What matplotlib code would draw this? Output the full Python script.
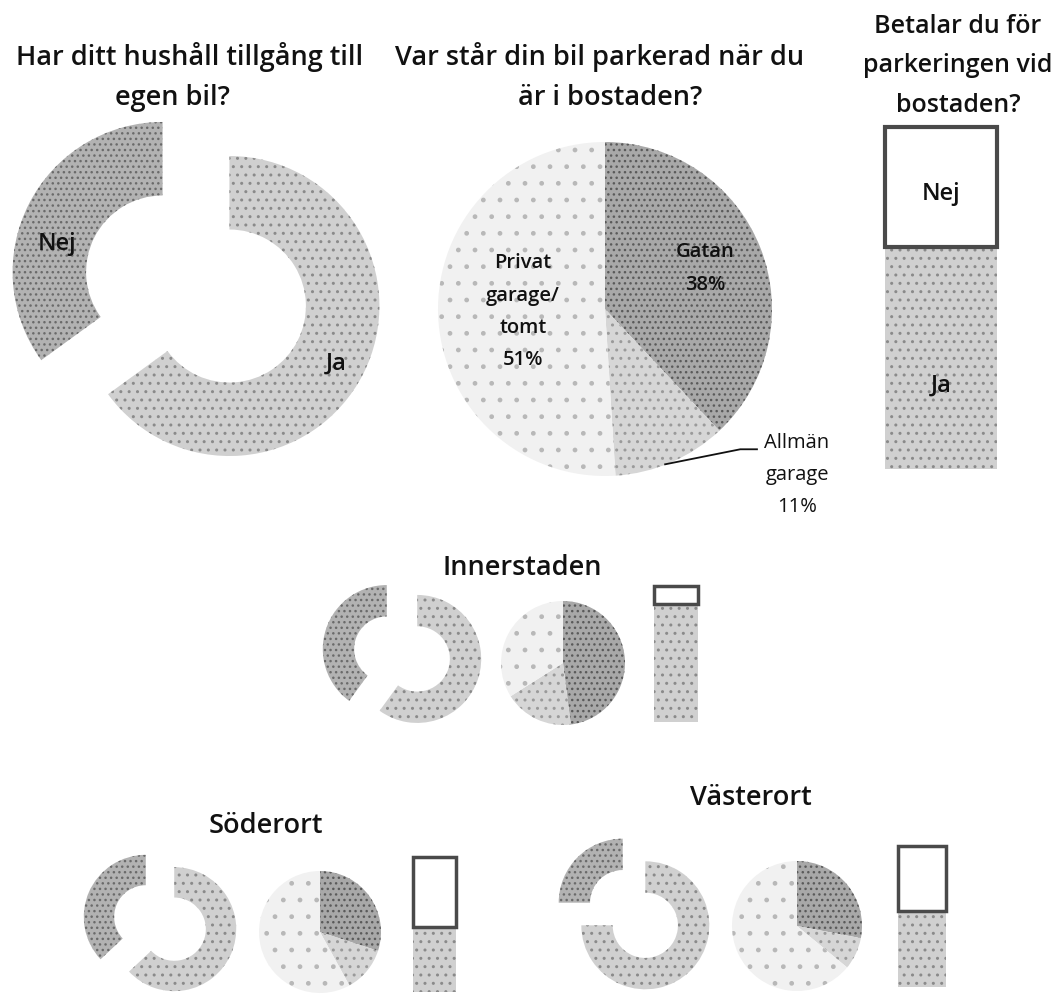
import matplotlib
matplotlib.use("Agg")
import matplotlib.pyplot as plt

# ---------------- data ----------------
car_labels = ["Ja", "Nej"]
park_labels = ["Gatan", "Allmän garage", "Privat garage/tomt"]
pay_labels = ["Ja", "Nej"]

car_all = [65, 35]
park_all = [38, 11, 51]
pay_all = [65, 35]

regions = ["Innerstaden", "Söderort", "Västerort"]
car_inner = [60, 40]
park_inner = [48, 18, 34]
pay_inner = [87, 13]
car_soder = [63, 37]
park_soder = [30, 12, 58]
pay_soder = [48, 52]
car_vaster = [75, 25]
park_vaster = [28, 8, 64]
pay_vaster = [54, 46]

titles = ["Har ditt hushåll tillgång till", "egen bil?",
          "Var står din bil parkerad när du", "är i bostaden?",
          "Betalar du för", "parkeringen vid", "bostaden?"]

# ---------------- style ----------------
W, H = 1053, 995
plt.rcParams["font.family"] = ["Open Sans", "DejaVu Sans"]
col_ja = "#d0d0d0"
col_nej = "#b2b2b2"
col_gatan = "#a8a8a8"
col_allman = "#d6d6d6"
col_privat = "#f1f1f1"

fig = plt.figure(figsize=(W / 100, H / 100), dpi=100)


def px_axes(cx, cy, hw, hh=None):
    if hh is None:
        hh = hw
    return fig.add_axes([(cx - hw) / W, 1 - (cy + hh) / H, 2 * hw / W, 2 * hh / H])


def ftext(x, y, s, size, weight="semibold", **kw):
    fig.text(x / W, 1 - y / H, s, fontsize=size, fontweight=weight,
             ha=kw.pop("ha", "center"), va=kw.pop("va", "baseline"),
             color="#111111", **kw)


def stipple(patch, hatch, color):
    patch.set_hatch(hatch)
    patch.set_edgecolor(color)
    patch.set_linewidth(0)


def donut(cx, cy, R, values):
    L = 1.6
    ax = px_axes(cx, cy, R * L)
    wedges, _ = ax.pie(values, startangle=90, counterclock=False,
                       explode=[0.25] * len(values), radius=1,
                       colors=[col_ja, col_nej],
                       wedgeprops=dict(width=0.49, linewidth=0))
    stipple(wedges[0], "..", "#8a8a8a")
    stipple(wedges[1], "...", "#6a6a6a")
    ax.set_xlim(-L, L)
    ax.set_ylim(-L, L)
    ax.axis("off")
    return ax


def pie(cx, cy, R, values):
    L = 1.3
    ax = px_axes(cx, cy, R * L)
    wedges, _ = ax.pie(values, startangle=90, counterclock=False, radius=1,
                       colors=[col_gatan, col_allman, col_privat],
                       wedgeprops=dict(linewidth=0))
    stipple(wedges[0], "...", "#5a5a5a")
    stipple(wedges[1], "..", "#9a9a9a")
    stipple(wedges[2], ".", "#b8b8b8")
    ax.set_xlim(-L, L)
    ax.set_ylim(-L, L)
    ax.axis("off")
    return ax


def bar(x0, x1, y0, y1, values, lw):
    ax = fig.add_axes([x0 / W, 1 - y1 / H, (x1 - x0) / W, (y1 - y0) / H])
    b1 = ax.bar([0], [values[0]], width=1.0, color=col_ja, linewidth=0)
    b2 = ax.bar([0], [values[1]], bottom=[values[0]], width=1.0,
                color="white", edgecolor="#4a4a4a", linewidth=lw)
    stipple(b1[0], "..", "#8a8a8a")
    ax.set_xlim(-0.5, 0.5)
    ax.set_ylim(0, 100)
    ax.axis("off")
    for p in b2:
        p.set_clip_on(False)
    return ax


# ---------------- top row ----------------
TS = 19.5
ftext(190, 65, titles[0], TS)
ftext(172, 105, titles[1], TS)
ftext(600, 65, titles[2], TS)
ftext(610, 105, titles[3], TS)
ftext(958, 33, titles[4], 18)
ftext(958, 72, titles[5], 18)
ftext(958, 112, titles[6], 18)

donut(196, 290, 150, car_all)
ftext(57, 250, car_labels[1], 17)
ftext(336, 370, car_labels[0], 17)

axp = pie(605, 310, 167, park_all)
ftext(705, 257, park_labels[0], 14.5)
ftext(705, 290, f"{park_all[0]}%", 14.5)
ftext(523, 268, "Privat", 14.5)
ftext(523, 301, "garage/", 14.5)
ftext(523, 333, "tomt", 14.5)
ftext(523, 365, f"{park_all[2]}%", 14.5)
ftext(797, 448, "Allmän", 14.5, "normal")
ftext(797, 480, "garage", 14.5, "normal")
ftext(797, 512, f"{park_all[1]}%", 14.5, "normal")
axp.plot([0.36, 0.81, 0.91], [-0.93, -0.84, -0.84], color="#111111", lw=1.3,
         clip_on=False)

bar(885, 997, 128, 470, pay_all, 3)
ftext(941, 200, pay_labels[1], 17)
ftext(941, 392, pay_labels[0], 17)

# ---------------- regions ----------------
ftext(522, 575, regions[0], TS)
donut(402, 655, 64, car_inner)
pie(563, 664, 62, park_inner)
bar(654, 698, 587, 723, pay_inner, 2.5)

ftext(266, 833, regions[1], TS)
donut(160, 924, 62, car_soder)
pie(320, 933, 61, park_soder)
bar(413, 456, 858, 993, pay_soder, 2.5)

ftext(751, 805, regions[2], TS)
donut(634, 915, 64, car_vaster)
pie(797, 927, 65, park_vaster)
bar(898, 946, 847, 988, pay_vaster, 2.5)

fig.savefig("out.png", dpi=100, facecolor="white")
